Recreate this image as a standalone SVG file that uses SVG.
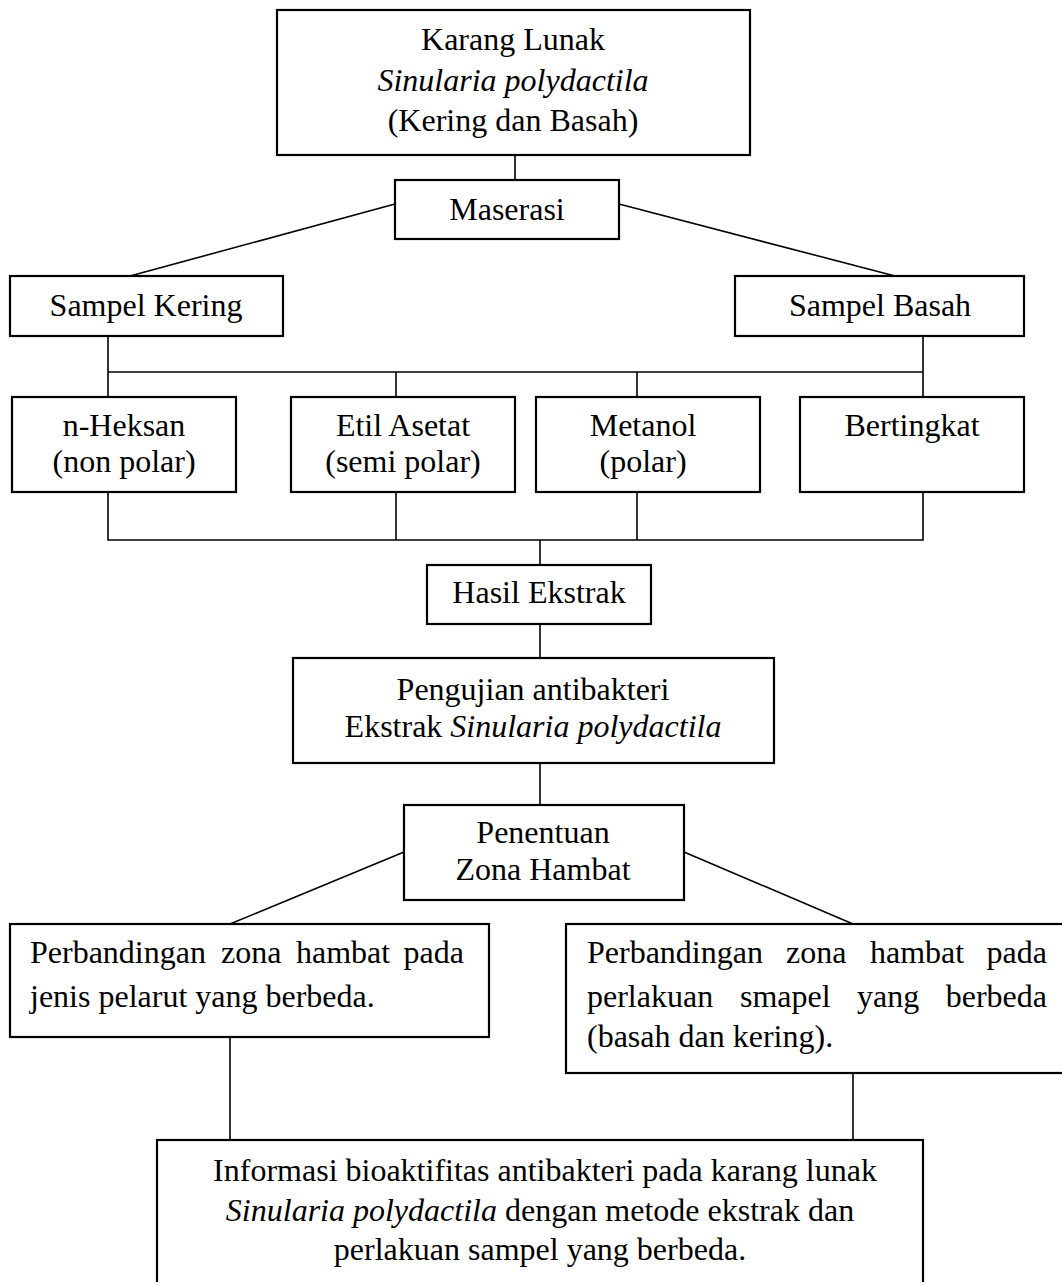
<svg xmlns="http://www.w3.org/2000/svg" width="1062" height="1282" viewBox="0 0 1062 1282">
<style>
.box{fill:#fff;stroke:#000;stroke-width:2.2}
.ln{fill:none;stroke:#000;stroke-width:1.6}
text{font-family:"Liberation Serif","Times New Roman",serif;font-size:32px;fill:#000}
.c{text-anchor:middle}
.e{text-anchor:end}
.i{font-style:italic}
</style>
<rect width="1062" height="1282" fill="#fff"/>
<g id="connectors">
<line class="ln" x1="515" y1="155" x2="515" y2="180"/>
<line class="ln" x1="395" y1="204" x2="130" y2="276"/>
<line class="ln" x1="619" y1="204" x2="895" y2="276"/>
<line class="ln" x1="108" y1="336" x2="108" y2="397"/>
<line class="ln" x1="923" y1="336" x2="923" y2="397"/>
<line class="ln" x1="108" y1="372" x2="923" y2="372"/>
<line class="ln" x1="396" y1="372" x2="396" y2="397"/>
<line class="ln" x1="637" y1="372" x2="637" y2="397"/>
<polyline class="ln" points="108,492 108,540 923,540 923,492"/>
<line class="ln" x1="396" y1="492" x2="396" y2="540"/>
<line class="ln" x1="637" y1="492" x2="637" y2="540"/>
<line class="ln" x1="540" y1="540" x2="540" y2="565"/>
<line class="ln" x1="540" y1="624" x2="540" y2="658"/>
<line class="ln" x1="540" y1="763" x2="540" y2="805"/>
<line class="ln" x1="404" y1="852" x2="230" y2="924"/>
<line class="ln" x1="684" y1="852" x2="853" y2="924"/>
<line class="ln" x1="230" y1="1037" x2="230" y2="1140"/>
<line class="ln" x1="853" y1="1073" x2="853" y2="1140"/>
</g>
<g id="karang">
<rect class="box" x="277" y="10" width="473" height="145"/>
<text class="c" x="513" y="50">Karang Lunak</text>
<text class="c i" x="513" y="91">Sinularia polydactila</text>
<text class="c" x="513" y="131">(Kering dan Basah)</text>
</g>
<g id="maserasi">
<rect class="box" x="395" y="180" width="224" height="59"/>
<text class="c" x="507" y="220">Maserasi</text>
</g>
<g id="sampel-kering">
<rect class="box" x="10" y="276" width="273" height="60"/>
<text class="c" x="146" y="316">Sampel Kering</text>
</g>
<g id="sampel-basah">
<rect class="box" x="735" y="276" width="289" height="60"/>
<text class="c" x="880" y="316">Sampel Basah</text>
</g>
<g id="nheksan">
<rect class="box" x="12" y="397" width="224" height="95"/>
<text class="c" x="124" y="436">n-Heksan</text>
<text class="c" x="124" y="472">(non polar)</text>
</g>
<g id="etil">
<rect class="box" x="291" y="397" width="224" height="95"/>
<text class="c" x="403" y="436">Etil Asetat</text>
<text class="c" x="403" y="472">(semi polar)</text>
</g>
<g id="metanol">
<rect class="box" x="536" y="397" width="224" height="95"/>
<text class="c" x="643" y="436">Metanol</text>
<text class="c" x="643" y="472">(polar)</text>
</g>
<g id="bertingkat">
<rect class="box" x="800" y="397" width="224" height="95"/>
<text class="c" x="912" y="436">Bertingkat</text>
</g>
<g id="hasil">
<rect class="box" x="427" y="565" width="224" height="59"/>
<text class="c" x="539" y="603">Hasil Ekstrak</text>
</g>
<g id="pengujian">
<rect class="box" x="293" y="658" width="481" height="105"/>
<text class="c" x="533" y="700">Pengujian antibakteri</text>
<text class="c" x="533" y="737">Ekstrak <tspan class="i">Sinularia polydactila</tspan></text>
</g>
<g id="penentuan">
<rect class="box" x="404" y="805" width="280" height="95"/>
<text class="c" x="543" y="843">Penentuan</text>
<text class="c" x="543" y="880">Zona Hambat</text>
</g>
<g id="perbandingan-pelarut">
<rect class="box" x="10" y="924" width="479" height="113"/>
<text x="30" y="963">Perbandingan</text>
<text x="221" y="963">zona</text>
<text x="296" y="963">hambat</text>
<text class="e" x="464" y="963">pada</text>
<text x="30" y="1007">jenis pelarut yang berbeda.</text>
</g>
<g id="perbandingan-sampel">
<rect class="box" x="566" y="924" width="500" height="149"/>
<text x="587" y="963">Perbandingan</text>
<text x="786" y="963">zona</text>
<text x="870" y="963">hambat</text>
<text class="e" x="1047" y="963">pada</text>
<text x="587" y="1007">perlakuan</text>
<text x="740" y="1007">smapel</text>
<text x="857" y="1007">yang</text>
<text class="e" x="1047" y="1007">berbeda</text>
<text x="587" y="1047">(basah dan kering).</text>
</g>
<g id="informasi">
<rect class="box" x="157" y="1140" width="766" height="160"/>
<text class="c" x="545" y="1181">Informasi bioaktifitas antibakteri pada karang lunak</text>
<text class="c" x="540" y="1221"><tspan class="i">Sinularia polydactila</tspan> dengan metode ekstrak dan</text>
<text class="c" x="540" y="1260">perlakuan sampel yang berbeda.</text>
</g>
</svg>
